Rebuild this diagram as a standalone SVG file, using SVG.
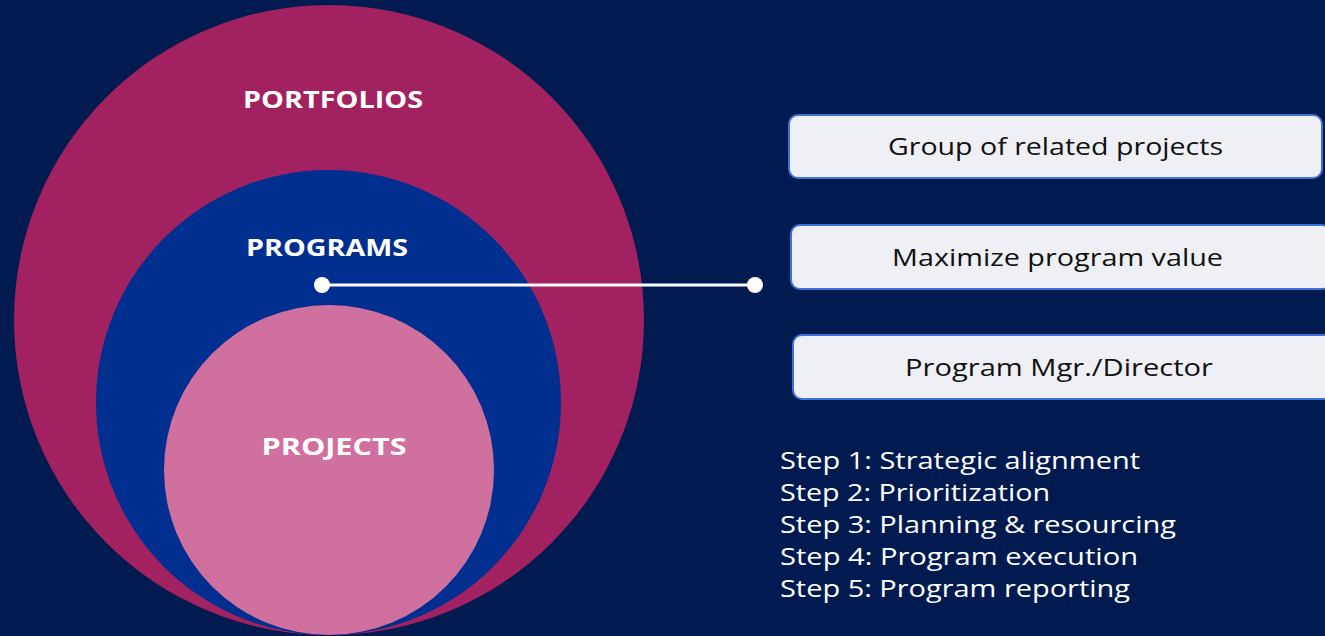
<svg xmlns="http://www.w3.org/2000/svg" width="1325" height="636" viewBox="0 0 1325 636">
<style>
.lbl{font-family:"Open Sans","Liberation Sans",sans-serif;font-weight:bold;font-size:24px;fill:#ffffff;text-anchor:middle}
.box{fill:#eef0f6;stroke:#3f72d8;stroke-width:2}
.bt{font-family:"Open Sans","Liberation Sans",sans-serif;font-size:24px;fill:#111111;text-anchor:middle}
.st{font-family:"Open Sans","Liberation Sans",sans-serif;font-size:24px;fill:#ffffff}
</style>
<rect x="0" y="0" width="1325" height="636" fill="#011a4f"/>
<g id="portfolios">
<circle cx="329" cy="320" r="315" fill="#a22160"/>
<text class="lbl" x="333" y="108" textLength="180" lengthAdjust="spacingAndGlyphs">PORTFOLIOS</text>
</g>
<g id="programs">
<circle cx="328.5" cy="402.5" r="232.5" fill="#012f8f"/>
<text class="lbl" x="327" y="256" textLength="162" lengthAdjust="spacingAndGlyphs">PROGRAMS</text>
</g>
<g id="projects">
<circle cx="329" cy="470" r="165" fill="#cf709e"/>
<text class="lbl" x="334" y="455" textLength="145" lengthAdjust="spacingAndGlyphs">PROJECTS</text>
</g>
<g id="connectors">
<line x1="322" y1="285" x2="755" y2="285" stroke="#ffffff" stroke-width="3"/>
<circle cx="322" cy="285" r="8" fill="#ffffff"/>
<circle cx="755" cy="285" r="8" fill="#ffffff"/>
</g>
<g id="box1">
<rect class="box" x="789" y="115" width="533" height="63" rx="9"/>
<text class="bt" x="1055.5" y="155" textLength="335" lengthAdjust="spacingAndGlyphs">Group of related projects</text>
</g>
<g id="box2">
<rect class="box" x="791" y="225" width="540" height="64" rx="9"/>
<text class="bt" x="1057.5" y="266" textLength="331" lengthAdjust="spacingAndGlyphs">Maximize program value</text>
</g>
<g id="box3">
<rect class="box" x="793" y="335" width="540" height="64" rx="9"/>
<text class="bt" x="1059" y="376" textLength="308" lengthAdjust="spacingAndGlyphs">Program Mgr./Director</text>
</g>
<g id="steps">
<text class="st" x="780" y="469" textLength="360" lengthAdjust="spacingAndGlyphs">Step 1: Strategic alignment</text>
<text class="st" x="780" y="501" textLength="270" lengthAdjust="spacingAndGlyphs">Step 2: Prioritization</text>
<text class="st" x="780" y="533" textLength="396" lengthAdjust="spacingAndGlyphs">Step 3: Planning &amp; resourcing</text>
<text class="st" x="780" y="565" textLength="358" lengthAdjust="spacingAndGlyphs">Step 4: Program execution</text>
<text class="st" x="780" y="597" textLength="350" lengthAdjust="spacingAndGlyphs">Step 5: Program reporting</text>
</g>
</svg>
